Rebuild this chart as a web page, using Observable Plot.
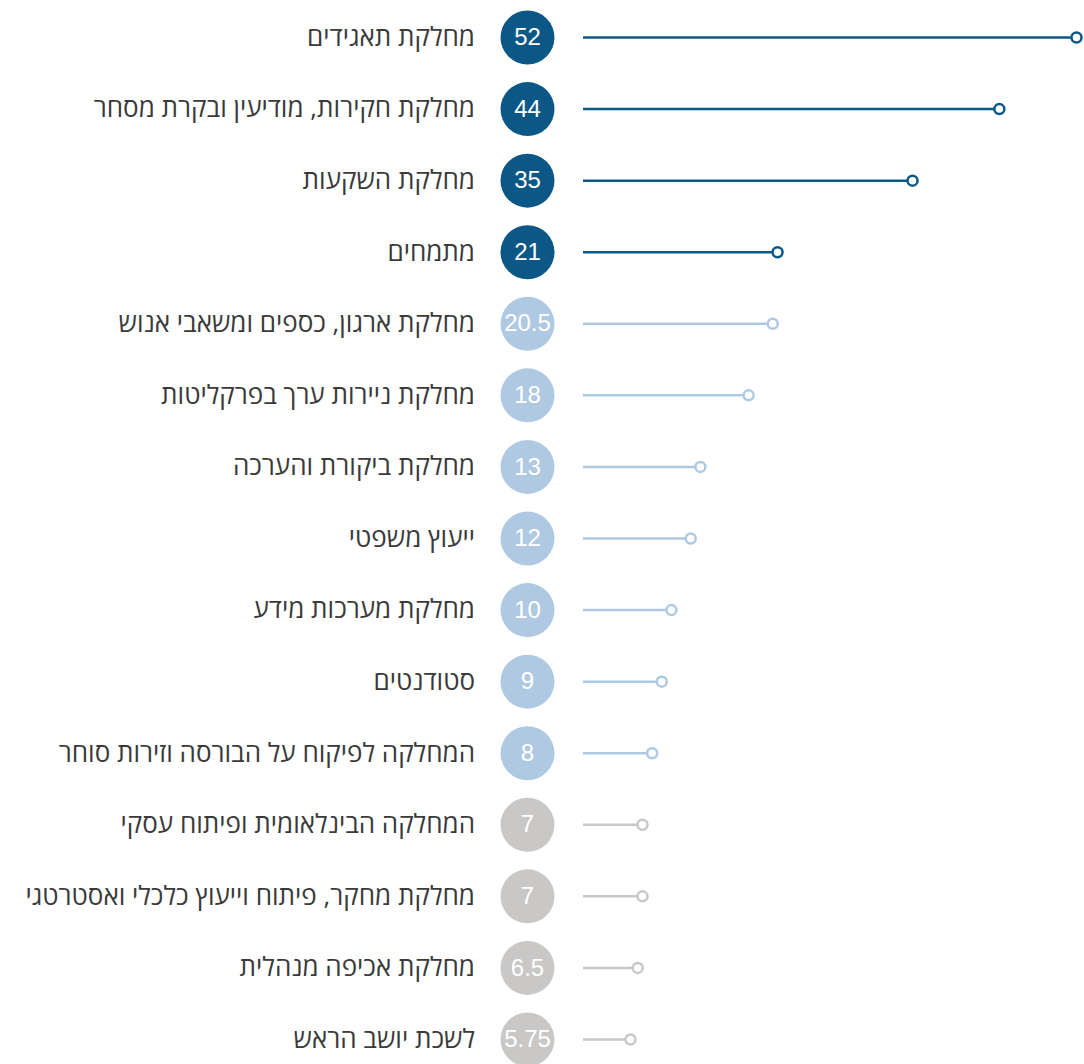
<!DOCTYPE html>
<html>
<head>
<meta charset="utf-8">
<script src="https://cdn.jsdelivr.net/npm/d3@7"></script>
<script src="https://cdn.jsdelivr.net/npm/@observablehq/plot@0.6"></script>
<style>
  html, body { margin: 0; padding: 0; background: #fff; }
  #chart svg { display: block; }
</style>
</head>
<body>
<div id="chart"></div>
<script>
const categories = [
  "מחלקת תאגידים",
  "מחלקת חקירות, מודיעין ובקרת מסחר",
  "מחלקת השקעות",
  "מתמחים",
  "מחלקת ארגון, כספים ומשאבי אנוש",
  "מחלקת ניירות ערך בפרקליטות",
  "מחלקת ביקורת והערכה",
  "ייעוץ משפטי",
  "מחלקת מערכות מידע",
  "סטודנטים",
  "המחלקה לפיקוח על הבורסה וזירות סוחר",
  "המחלקה הבינלאומית ופיתוח עסקי",
  "מחלקת מחקר, פיתוח וייעוץ כלכלי ואסטרטגי",
  "מחלקת אכיפה מנהלית",
  "לשכת יושב הראש"
];
const values = [52, 44, 35, 21, 20.5, 18, 13, 12, 10, 9, 8, 7, 7, 6.5, 5.75];
const groups = ["top", "top", "top", "top", "mid", "mid", "mid", "mid", "mid", "mid", "mid", "low", "low", "low", "low"];
const groupColors = {top: "#0b5886", mid: "#afc9e3", low: "#c9c8c6"};

const data = categories.map((c, i) => ({id: i, category: c, value: values[i], group: groups[i]}));

const chart = Plot.plot({
  width: 1084,
  height: 1064,
  marginLeft: 574.5,
  marginRight: 8,
  marginTop: 37,
  marginBottom: 25,
  x: {domain: [0, 52], axis: null},
  y: {type: "point", domain: d3.range(categories.length), padding: 0, round: false, axis: null},
  color: {domain: Object.keys(groupColors), range: Object.values(groupColors)},
  marks: [
    Plot.ruleY(data, {y: "id", x1: 0, x2: "value", stroke: "group", strokeWidth: 2.5, insetLeft: 8.5}),
    Plot.dot(data, {y: "id", x: "value", r: 5, stroke: "group", strokeWidth: 2.5, fill: "white"}),
    Plot.dot(data, {y: "id", x: 0, dx: -47.5, r: 27, fill: "group", stroke: null}),
    Plot.text(data, {y: "id", x: 0, dx: -47.5, text: d => String(d.value), fill: "white", fontSize: 24, fontFamily: "Liberation Sans, Arial, sans-serif"}),
    Plot.text(data, {y: "id", x: 0, dx: -100, text: "category", textAnchor: "end", fill: "#3a3a3a", fontSize: 26, fontFamily: "Open Sans, DejaVu Sans, sans-serif"})
  ]
});
document.getElementById("chart").appendChild(chart);
</script>
</body>
</html>
